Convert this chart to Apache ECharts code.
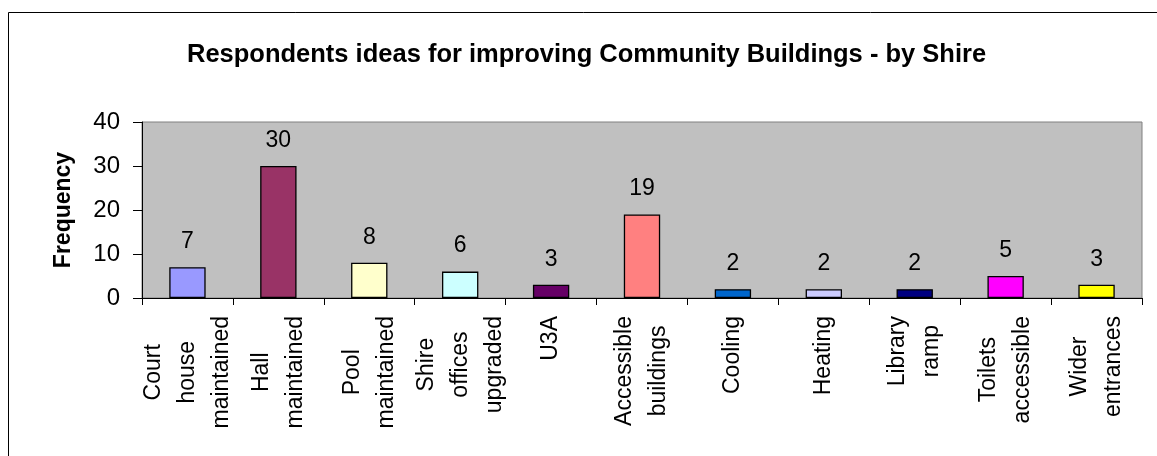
<!DOCTYPE html>
<html>
<head>
<meta charset="utf-8">
<script src="https://cdn.jsdelivr.net/npm/echarts@6/dist/echarts.min.js"></script>
<style>
  html, body { margin: 0; padding: 0; background: #ffffff; }
  #chart { width: 1157px; height: 456px; }
</style>
</head>
<body>
<div id="chart"></div>
<script>
// Ideas raised by respondents, one bar per idea
const categories = [
  'Court\nhouse\nmaintained',
  'Hall\nmaintained',
  'Pool\nmaintained',
  'Shire\noffices\nupgraded',
  'U3A',
  'Accessible\nbuildings',
  'Cooling',
  'Heating',
  'Library\nramp',
  'Toilets\naccessible',
  'Wider\nentrances'
];
const frequency = [7, 30, 8, 6, 3, 19, 2, 2, 2, 5, 3];

// Value axis range
const yMin = 0;
const yMax = 40;
const yStep = 10;

// Fill colour for each bar, in category order
const barColors = [
  '#9999FF', '#993366', '#FFFFCC', '#CCFFFF', '#660066', '#FF8080',
  '#0066CC', '#CCCCFF', '#000080', '#FF00FF', '#FFFF00'
];

const FONT = '"Liberation Sans", Arial, sans-serif';

const chart = echarts.init(document.getElementById('chart'), null, { renderer: 'canvas' });

chart.setOption({
  animation: false,
  color: barColors,
  title: {
    text: 'Respondents ideas for improving Community Buildings - by Shire',
    left: 182,
    top: 37,
    padding: 5,
    textStyle: {
      fontFamily: FONT,
      fontSize: 25.5,
      fontWeight: 'bold',
      color: '#000000'
    }
  },
  grid: {
    left: 142,
    top: 122,
    right: 15,
    bottom: 158,
    show: true,
    backgroundColor: '#C0C0C0',
    borderColor: '#808080',
    borderWidth: 1
  },
  xAxis: {
    type: 'category',
    data: categories,
    axisLine: { lineStyle: { color: '#000000', width: 1 } },
    axisTick: { show: true, length: 7, lineStyle: { color: '#000000' } },
    axisLabel: {
      interval: 0,
      rotate: 90,
      margin: 18,
      color: '#000000',
      fontFamily: FONT,
      fontSize: 23,
      formatter: function (value) {
        // centre each wrapped line within its label block
        return value.split('\n').map(function (line) { return '{c|' + line + '}'; }).join('\n');
      },
      rich: {
        c: {
          align: 'center',
          fontFamily: FONT,
          fontSize: 23,
          lineHeight: 34,
          color: '#000000'
        }
      }
    },
    splitLine: { show: false }
  },
  yAxis: {
    type: 'value',
    min: yMin,
    max: yMax,
    interval: yStep,
    name: 'Frequency',
    nameLocation: 'middle',
    nameRotate: 90,
    nameGap: 67,
    nameTextStyle: {
      fontFamily: FONT,
      fontSize: 23,
      fontWeight: 'bold',
      color: '#000000'
    },
    axisLine: { show: true, lineStyle: { color: '#000000', width: 1 } },
    axisTick: { show: true, length: 9, lineStyle: { color: '#000000' } },
    axisLabel: {
      margin: 22,
      color: '#000000',
      fontFamily: FONT,
      fontSize: 24
    },
    splitLine: { show: false }
  },
  series: [{
    type: 'bar',
    data: frequency,
    colorBy: 'data',
    barWidth: '40%',
    itemStyle: { borderColor: '#000000', borderWidth: 1.3 },
    label: {
      show: true,
      position: 'top',
      distance: 14,
      color: '#000000',
      fontFamily: FONT,
      fontSize: 23
    }
  }],
  graphic: [{
    type: 'rect',
    silent: true,
    z: -1,
    shape: { x: 8.5, y: 12.5, width: 1200, height: 500 },
    style: { fill: 'none', stroke: '#000000', lineWidth: 1 }
  }]
});
</script>
</body>
</html>
